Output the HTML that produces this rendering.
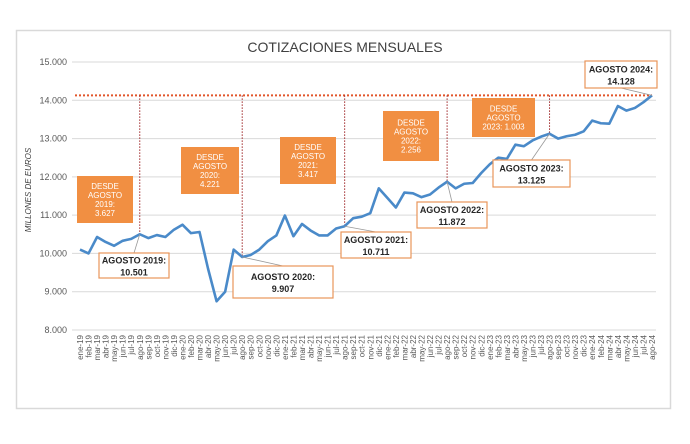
<!DOCTYPE html>
<html><head><meta charset="utf-8"><style>
body{margin:0;background:#fff;width:690px;height:439px;overflow:hidden;font-family:"Liberation Sans",sans-serif}
svg text{font-family:"Liberation Sans",sans-serif}
</style></head><body>
<svg id="chart" width="690" height="439" viewBox="0 0 690 439">
<rect x="16.5" y="30.5" width="654" height="378" fill="#fff" stroke="#d9d9d9" stroke-width="1.5"/>
<text x="345" y="52" text-anchor="middle" font-size="14" fill="#404040">COTIZACIONES MENSUALES</text>
<text transform="translate(31,190) rotate(-90)" text-anchor="middle" font-size="8" font-style="italic" fill="#404040">MILLONES DE EUROS</text>
<g id="grid"></g><g id="xlabels"></g><g id="annot"></g><g id="line"></g><g id="boxes"></g>
</svg>
<script>
const categories=[];
const yrs=['19','20','21','22','23','24'];
const mths=['ene','feb','mar','abr','may','jun','jul','ago','sep','oct','nov','dic'];
yrs.forEach(y=>mths.forEach((m,i)=>{if(!(y==='24'&&i>7))categories.push(m+'-'+y);}));
const values=[10100,10000,10430,10300,10200,10330,10380,10501,10400,10480,10430,10620,
10750,10530,10560,9600,8750,9000,10100,9907,9960,10100,10320,10470,
10990,10450,10770,10600,10470,10470,10650,10711,10920,10960,11050,11700,
11450,11200,11590,11570,11470,11540,11720,11872,11700,11820,11840,12100,
12330,12500,12470,12840,12800,12950,13050,13125,13000,13060,13100,13190,
13470,13400,13390,13850,13730,13800,13950,14128];
const yTicks=[8000,9000,10000,11000,12000,13000,14000,15000];
const yTickLabels=['8.000','9.000','10.000','11.000','12.000','13.000','14.000','15.000'];
const augLabels=['AGOSTO 2019:','AGOSTO 2020:','AGOSTO 2021:','AGOSTO 2022:','AGOSTO 2023:','AGOSTO 2024:'];
const augValues=['10.501','9.907','10.711','11.872','13.125','14.128'];
const sinceLines=[['DESDE','AGOSTO','2019:','3.627'],['DESDE','AGOSTO','2020:','4.221'],['DESDE','AGOSTO','2021:','3.417'],['DESDE','AGOSTO','2022:','2.256'],['DESDE','AGOSTO','2023: 1.003']];
const NS='http://www.w3.org/2000/svg';
const X0=80,X1=652,Y0=330,Y1=62;
const x=i=>X0+(X1-X0)*i/(categories.length-1);
const y=v=>Y0-(v-8000)/(15000-8000)*(Y0-Y1);
function mk(tag,attrs,parent){const e=document.createElementNS(NS,tag);for(const k in attrs)e.setAttribute(k,attrs[k]);parent.appendChild(e);return e;}
const grid=document.getElementById('grid');
yTicks.forEach((t,i)=>{
 const l=mk('line',{x1:72,x2:656,y1:y(t),y2:y(t),stroke:'#d9d9d9','stroke-width':1},grid);
 
 
 const tx=mk('text',{x:67,y:y(t)+3,'text-anchor':'end','font-size':9,fill:'#595959'},grid);
 tx.textContent=yTickLabels[i];
 
 
});
const xl=document.getElementById('xlabels');
categories.forEach((c,i)=>{
 const tx=mk('text',{transform:`translate(${x(i)+3},335) rotate(-90)`,'text-anchor':'end','font-size':8,fill:'#595959'},xl);
 tx.textContent=c;
 
 
});
const an=document.getElementById('annot');
const last=values[values.length-1];
const hl=mk('line',{x1:75,x2:x(values.length-1),y1:y(last),y2:y(last),stroke:'#e2562b','stroke-width':2,'stroke-dasharray':'2,2'},an);


const augIdx=[];categories.forEach((c,i)=>{if(c.startsWith('ago'))augIdx.push(i);});
augIdx.slice(0,5).forEach(i=>{
 const l=mk('line',{x1:x(i),x2:x(i),y1:y(last),y2:y(values[i]),stroke:'#a0282a','stroke-width':1,'stroke-dasharray':'1.5,1.5'},an);
 
 
});
const ln=document.getElementById('line');
const p=mk('polyline',{points:values.map((v,i)=>x(i)+','+y(v)).join(' '),fill:'none',stroke:'#4a8ac9','stroke-width':2.6,'stroke-linejoin':'round'},ln);


const bx=document.getElementById('boxes');
const labelBoxes=[[99,253,70,25],[233,266,100,32],[341,232,70,26],[417,202,70,26],[493,160,77,27],[585,61,72,27]];
labelBoxes.forEach((b,k)=>{
 const i=augIdx[k];
 const ll=mk('line',{x1:x(i),y1:y(values[i]),x2:b[0]+b[2]/2,y2:(b[1]<y(values[i])?b[1]+b[3]:b[1]),stroke:'#999','stroke-width':0.8},bx);
 
 
 const r=mk('rect',{x:b[0],y:b[1],width:b[2],height:b[3],fill:'#fff',stroke:'#e8955a','stroke-width':1.2},bx);
 
 
 const t1=mk('text',{x:b[0]+b[2]/2,y:b[1]+b[3]/2-2,'text-anchor':'middle','font-size':9,'font-weight':'bold',fill:'#262626'},bx);
 t1.textContent=augLabels[k];
 
 
 const t2=mk('text',{x:b[0]+b[2]/2,y:b[1]+b[3]/2+10,'text-anchor':'middle','font-size':9,'font-weight':'bold',fill:'#262626'},bx);
 t2.textContent=augValues[k];
 
 
});
const sinceBoxes=[[77,176,56,47],[181,147,58,47],[280,137,56,47],[383,111,56,50],[472,98,63,39]];
sinceBoxes.forEach((b,k)=>{
 const r=mk('rect',{x:b[0],y:b[1],width:b[2],height:b[3],fill:'#f18f42'},bx);
 
 
 const lines=sinceLines[k];
 const lh=9;const start=b[1]+b[3]/2-(lines.length-1)*lh/2+3;
 lines.forEach((s,j)=>{
  const t=mk('text',{x:b[0]+b[2]/2,y:start+j*lh,'text-anchor':'middle','font-size':8,fill:'#fff','font-family':'Liberation Serif, serif'},bx);
  t.textContent=s;
  
  
 });
});
</script>
</body></html>
